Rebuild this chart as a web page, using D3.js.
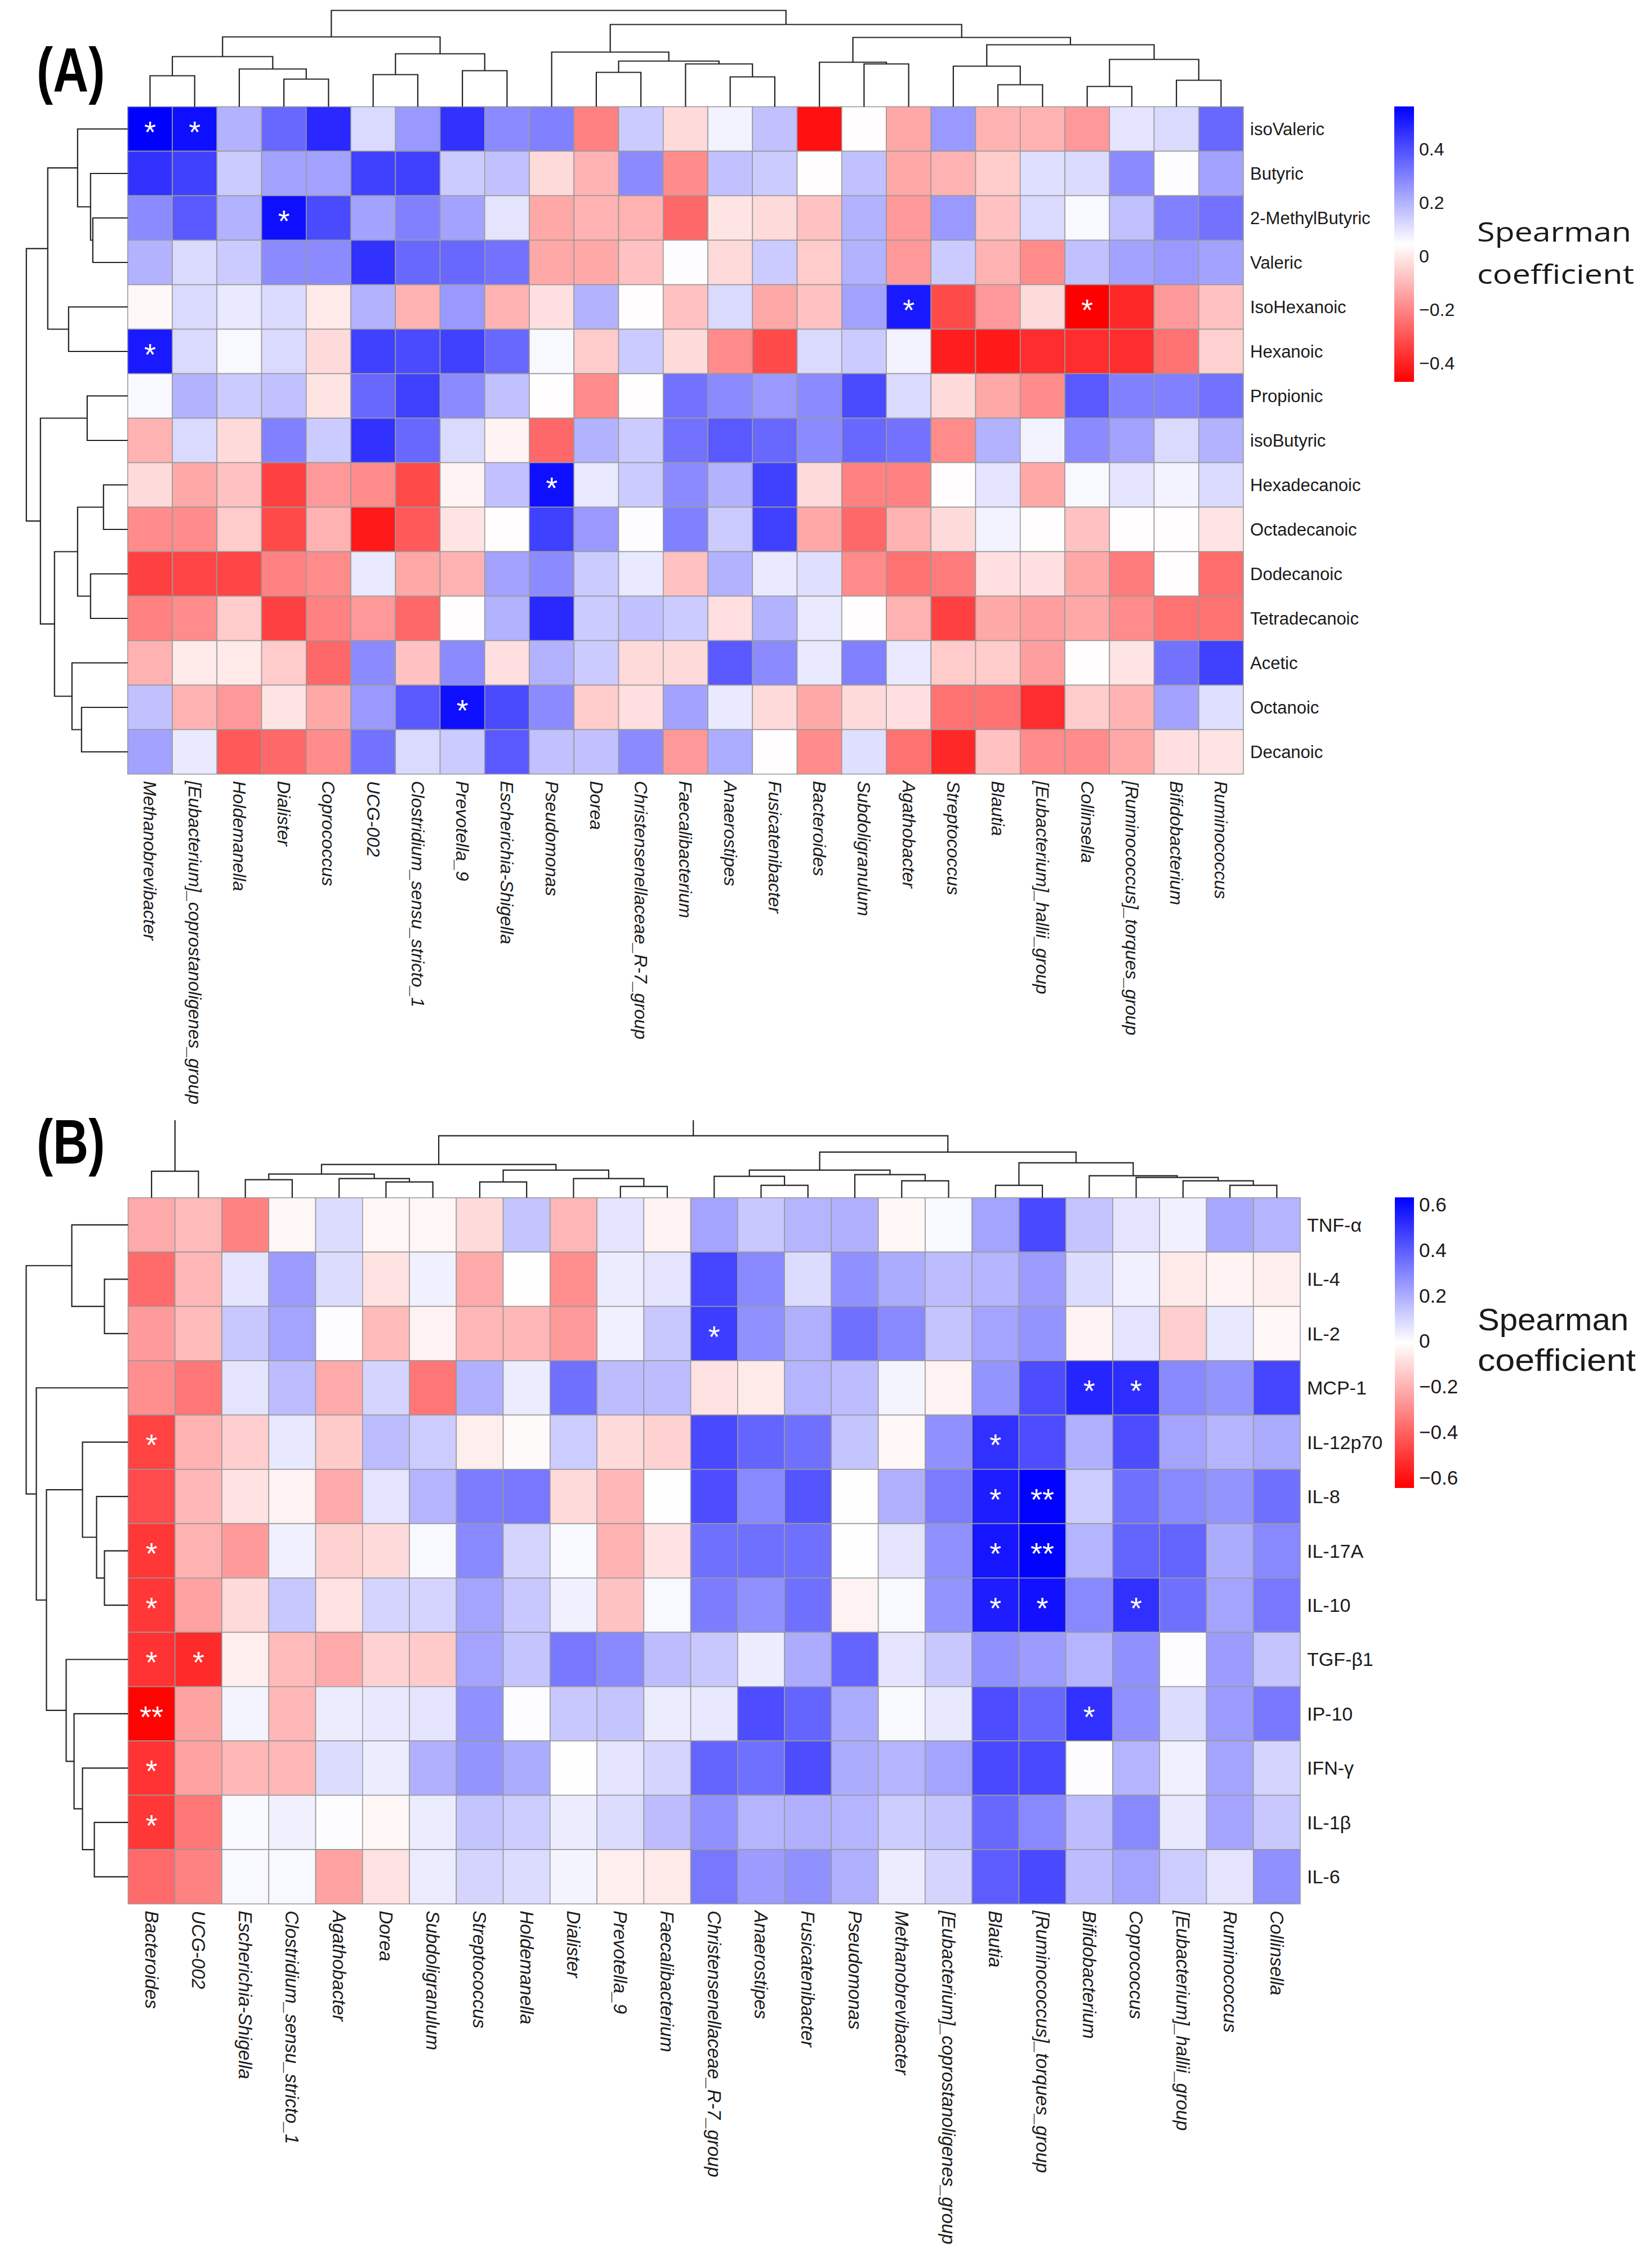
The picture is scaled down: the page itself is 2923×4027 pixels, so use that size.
<!DOCTYPE html>
<html>
<head>
<meta charset="utf-8">
<script src="https://cdn.jsdelivr.net/npm/d3@7"></script>
<style>
  body { margin: 0; background: #fff; }
  svg text { font-family: "Liberation Sans", Arial, sans-serif; fill: #1a1a1a; }
</style>
</head>
<body>
<svg id="chart" width="2923" height="4027"></svg>
<script>
/*
 * Spearman heatmaps (A: SCFA/FA vs. genera, B: cytokines vs. genera)
 */

// ---------- Panel A data ----------
var taxaA = ["Methanobrevibacter", "[Eubacterium]_coprostanoligenes_group", "Holdemanella", "Dialister",
  "Coprococcus", "UCG-002", "Clostridium_sensu_stricto_1", "Prevotella_9", "Escherichia-Shigella",
  "Pseudomonas", "Dorea", "Christensenellaceae_R-7_group", "Faecalibacterium", "Anaerostipes",
  "Fusicatenibacter", "Bacteroides", "Subdoligranulum", "Agathobacter", "Streptococcus", "Blautia",
  "[Eubacterium]_hallii_group", "Collinsella", "[Ruminococcus]_torques_group", "Bifidobacterium", "Ruminococcus"];

var acidsA = ["isoValeric", "Butyric", "2-MethylButyric", "Valeric", "IsoHexanoic", "Hexanoic", "Propionic",
  "isoButyric", "Hexadecanoic", "Octadecanoic", "Dodecanoic", "Tetradecanoic", "Acetic", "Octanoic", "Decanoic"];

// one row per acid, one value per genus (order of taxaA)
var rhoA = [
  [0.56, 0.53, 0.20, 0.35, 0.48, 0.12, 0.25, 0.46, 0.28, 0.30, -0.21, 0.15, -0.03, 0.07, 0.17, -0.44, 0.04, -0.13, 0.25, -0.11, -0.11, -0.16, 0.10, 0.12, 0.35],
  [0.46, 0.43, 0.15, 0.23, 0.23, 0.43, 0.43, 0.15, 0.17, -0.03, -0.11, 0.28, -0.19, 0.17, 0.15, 0.04, 0.17, -0.13, -0.11, -0.06, 0.11, 0.12, 0.28, 0.05, 0.23],
  [0.28, 0.38, 0.20, 0.53, 0.41, 0.23, 0.30, 0.23, 0.10, -0.13, -0.11, -0.11, -0.26, -0.01, -0.03, -0.08, 0.20, -0.16, 0.25, -0.08, 0.12, 0.06, 0.17, 0.30, 0.33],
  [0.20, 0.12, 0.15, 0.28, 0.28, 0.46, 0.35, 0.35, 0.33, -0.13, -0.13, -0.08, 0.05, -0.03, 0.15, -0.06, 0.20, -0.16, 0.15, -0.11, -0.19, 0.17, 0.23, 0.25, 0.23],
  [0.03, 0.12, 0.09, 0.12, 0.00, 0.20, -0.11, 0.25, -0.11, -0.02, 0.20, 0.04, -0.08, 0.12, -0.13, -0.08, 0.23, 0.51, -0.32, -0.16, -0.03, -0.47, -0.39, -0.16, -0.08],
  [0.51, 0.12, 0.06, 0.12, -0.03, 0.43, 0.41, 0.43, 0.35, 0.06, -0.06, 0.15, -0.03, -0.19, -0.32, 0.12, 0.15, 0.07, -0.41, -0.42, -0.38, -0.38, -0.38, -0.24, -0.05],
  [0.06, 0.20, 0.15, 0.17, -0.01, 0.35, 0.43, 0.28, 0.17, 0.04, -0.19, 0.04, 0.33, 0.28, 0.25, 0.28, 0.41, 0.12, -0.03, -0.13, -0.19, 0.38, 0.30, 0.30, 0.33],
  [-0.11, 0.12, -0.03, 0.30, 0.15, 0.46, 0.35, 0.12, 0.02, -0.26, 0.20, 0.15, 0.33, 0.38, 0.35, 0.28, 0.35, 0.33, -0.19, 0.20, 0.07, 0.28, 0.23, 0.12, 0.20],
  [-0.03, -0.13, -0.08, -0.34, -0.16, -0.19, -0.32, 0.02, 0.17, 0.53, 0.09, 0.15, 0.28, 0.20, 0.43, -0.03, -0.21, -0.21, 0.04, 0.10, -0.13, 0.06, 0.10, 0.07, 0.12],
  [-0.19, -0.19, -0.06, -0.32, -0.11, -0.42, -0.29, -0.01, 0.04, 0.43, 0.25, 0.05, 0.30, 0.15, 0.43, -0.13, -0.26, -0.11, -0.03, 0.07, 0.04, -0.08, 0.04, 0.04, -0.01],
  [-0.34, -0.33, -0.33, -0.21, -0.19, 0.09, -0.13, -0.11, 0.23, 0.28, 0.15, 0.09, -0.08, 0.20, 0.09, 0.11, -0.19, -0.24, -0.22, -0.02, -0.02, -0.13, -0.22, 0.04, -0.25],
  [-0.21, -0.19, -0.06, -0.34, -0.21, -0.16, -0.26, 0.04, 0.20, 0.48, 0.15, 0.17, 0.15, -0.02, 0.20, 0.09, 0.04, -0.11, -0.34, -0.13, -0.15, -0.13, -0.19, -0.24, -0.24],
  [-0.11, 0.00, 0.00, -0.06, -0.26, 0.28, -0.08, 0.28, -0.02, 0.20, 0.15, -0.03, -0.03, 0.38, 0.28, 0.09, 0.30, 0.09, -0.06, -0.06, -0.15, 0.04, -0.01, 0.33, 0.43],
  [0.17, -0.11, -0.16, -0.01, -0.13, 0.25, 0.38, 0.53, 0.41, 0.28, -0.06, -0.02, 0.23, 0.09, -0.03, -0.13, -0.03, -0.02, -0.24, -0.24, -0.38, -0.06, -0.11, 0.23, 0.11],
  [0.23, 0.09, -0.29, -0.26, -0.19, 0.33, 0.12, 0.15, 0.38, 0.17, 0.17, 0.28, -0.16, 0.21, 0.04, -0.19, 0.11, -0.24, -0.39, -0.08, -0.19, -0.19, -0.13, -0.02, -0.01]
];

// [row, column, mark]
var starsA = [[0, 0, "*"], [0, 1, "*"], [2, 3, "*"], [4, 17, "*"], [4, 21, "*"], [5, 0, "*"], [8, 9, "*"], [13, 7, "*"]];

// hclust style merges: negative = leaf (-(i+1)), positive = earlier merge (1-based); third = height
var colMergeA = [[-1, -2, 0.55], [-4, -5, 0.49], [-3, 2, 0.67], [1, 3, 0.89], [-6, -7, 0.57], [-8, -9, 0.64],
  [5, 6, 0.94], [4, 7, 1.24], [-11, -12, 0.61], [-14, -15, 0.53], [-13, 10, 0.76], [9, 11, 0.81], [-10, 12, 0.97],
  [-17, -18, 0.76], [-16, 14, 0.79], [-20, -21, 0.39], [-19, 16, 0.72], [-22, -23, 0.36], [-24, -25, 0.47],
  [18, 19, 0.84], [17, 20, 1.10], [15, 21, 1.23], [13, 22, 1.46], [8, 23, 1.71]];
var rowMergeA = [[-3, -4, 0.62], [-2, 1, 0.66], [-1, 2, 0.89], [-5, -6, 1.05], [3, 4, 1.42], [-7, -8, 0.72],
  [-9, -10, 0.43], [-11, -12, 0.66], [7, 8, 0.89], [-14, -15, 0.82], [-13, 10, 0.99], [9, 11, 1.30],
  [6, 12, 1.55], [5, 13, 1.80]];

var rangeA = [-0.47, 0.56];
var ticksA = [0.4, 0.2, 0, -0.2, -0.4];

// ---------- Panel B data ----------
var taxaB = ["Bacteroides", "UCG-002", "Escherichia-Shigella", "Clostridium_sensu_stricto_1", "Agathobacter",
  "Dorea", "Subdoligranulum", "Streptococcus", "Holdemanella", "Dialister", "Prevotella_9", "Faecalibacterium",
  "Christensenellaceae_R-7_group", "Anaerostipes", "Fusicatenibacter", "Pseudomonas", "Methanobrevibacter",
  "[Eubacterium]_coprostanoligenes_group", "Blautia", "[Ruminococcus]_torques_group", "Bifidobacterium",
  "Coprococcus", "[Eubacterium]_hallii_group", "Ruminococcus", "Collinsella"];

var cytokinesB = ["TNF-α", "IL-4", "IL-2", "MCP-1", "IL-12p70", "IL-8", "IL-17A", "IL-10", "TGF-β1", "IP-10",
  "IFN-γ", "IL-1β", "IL-6"];

var rhoB = [
  [-0.22, -0.18, -0.32, -0.03, 0.08, -0.03, -0.03, -0.10, 0.14, -0.19, 0.06, -0.04, 0.22, 0.13, 0.18, 0.19, -0.03, 0.01, 0.22, 0.45, 0.14, 0.06, 0.03, 0.21, 0.18],
  [-0.38, -0.19, 0.06, 0.24, 0.08, -0.08, 0.03, -0.22, -0.01, -0.29, 0.04, 0.06, 0.46, 0.29, 0.08, 0.27, 0.20, 0.16, 0.18, 0.24, 0.08, 0.03, -0.06, -0.04, -0.05],
  [-0.26, -0.18, 0.13, 0.22, 0.00, -0.18, -0.04, -0.19, -0.19, -0.26, 0.03, 0.13, 0.48, 0.27, 0.19, 0.35, 0.29, 0.14, 0.22, 0.26, -0.04, 0.06, -0.13, 0.05, -0.03],
  [-0.29, -0.35, 0.06, 0.16, -0.22, 0.10, -0.35, 0.19, 0.04, 0.35, 0.16, 0.16, -0.08, -0.06, 0.18, 0.16, 0.02, -0.04, 0.26, 0.44, 0.54, 0.52, 0.29, 0.26, 0.46],
  [-0.48, -0.20, -0.13, 0.05, -0.14, 0.16, 0.12, -0.05, -0.02, 0.12, -0.10, -0.12, 0.45, 0.38, 0.35, 0.14, -0.03, 0.27, 0.51, 0.44, 0.19, 0.44, 0.22, 0.18, 0.20],
  [-0.46, -0.19, -0.08, -0.04, -0.22, 0.06, 0.18, 0.32, 0.33, -0.10, -0.19, -0.01, 0.44, 0.29, 0.42, -0.01, 0.19, 0.32, 0.56, 0.63, 0.12, 0.35, 0.29, 0.26, 0.35],
  [-0.51, -0.20, -0.26, 0.03, -0.12, -0.10, 0.01, 0.29, 0.10, 0.01, -0.20, -0.08, 0.35, 0.35, 0.35, -0.01, 0.06, 0.27, 0.58, 0.63, 0.18, 0.38, 0.38, 0.20, 0.29],
  [-0.51, -0.24, -0.10, 0.13, -0.08, 0.10, 0.10, 0.22, 0.13, 0.03, -0.16, 0.01, 0.32, 0.27, 0.35, -0.04, 0.01, 0.26, 0.56, 0.59, 0.29, 0.51, 0.35, 0.22, 0.33],
  [-0.52, -0.54, -0.05, -0.18, -0.22, -0.12, -0.14, 0.22, 0.14, 0.33, 0.29, 0.16, 0.13, 0.04, 0.20, 0.38, 0.06, 0.13, 0.27, 0.24, 0.18, 0.27, 0.00, 0.24, 0.14],
  [-0.64, -0.24, 0.02, -0.19, 0.04, 0.05, 0.06, 0.27, 0.00, 0.13, 0.14, 0.04, 0.05, 0.44, 0.38, 0.20, 0.01, 0.05, 0.44, 0.37, 0.51, 0.27, 0.08, 0.24, 0.33],
  [-0.52, -0.24, -0.19, -0.19, 0.08, 0.04, 0.19, 0.26, 0.20, -0.01, 0.06, 0.10, 0.38, 0.35, 0.44, 0.20, 0.18, 0.22, 0.45, 0.45, 0.00, 0.18, 0.03, 0.22, 0.10],
  [-0.51, -0.35, 0.01, 0.03, 0.00, -0.03, 0.04, 0.14, 0.12, 0.04, 0.08, 0.16, 0.27, 0.18, 0.19, 0.18, 0.12, 0.14, 0.37, 0.29, 0.16, 0.29, 0.05, 0.22, 0.13],
  [-0.38, -0.32, 0.01, 0.01, -0.24, -0.08, 0.04, 0.10, 0.08, 0.02, -0.05, -0.06, 0.33, 0.24, 0.27, 0.19, 0.04, 0.10, 0.40, 0.45, 0.16, 0.22, 0.12, 0.06, 0.27]
];

var starsB = [[2, 12, "*"], [3, 20, "*"], [3, 21, "*"], [4, 0, "*"], [4, 18, "*"], [5, 18, "*"], [5, 19, "**"],
  [6, 0, "*"], [6, 18, "*"], [6, 19, "**"], [7, 0, "*"], [7, 18, "*"], [7, 19, "*"], [7, 21, "*"], [8, 0, "*"],
  [8, 1, "*"], [9, 0, "**"], [9, 20, "*"], [10, 0, "*"], [11, 0, "*"]];

var colMergeB = [[-1, -2, 0.47], [-3, -4, 0.32], [-6, -7, 0.28], [-5, 3, 0.34], [2, 4, 0.42], [-8, -9, 0.28],
  [-11, -12, 0.20], [-10, 7, 0.34], [6, 8, 0.49], [5, 9, 0.59], [-14, -15, 0.22], [-13, 11, 0.38],
  [-17, -18, 0.30], [-16, 13, 0.41], [12, 14, 0.49], [-19, -20, 0.22], [-24, -25, 0.22], [-23, 17, 0.30],
  [-22, 18, 0.36], [-21, 19, 0.39], [16, 20, 0.62], [15, 21, 0.81], [10, 22, 1.10], [1, 23, 1.60]];
var rowMergeB = [[-2, -3, 0.42], [-1, 1, 1.00], [-7, -8, 0.42], [-6, 3, 0.56], [-5, 4, 0.81], [-12, -13, 0.60],
  [-11, 6, 0.81], [-10, 7, 0.96], [-9, 8, 1.10], [5, 9, 1.45], [-4, 10, 1.63], [2, 11, 1.81]];

var rangeB = [-0.647, 0.632];
var ticksB = [0.6, 0.4, 0.2, 0, -0.2, -0.4, -0.6];

// ---------- Drawing ----------
var svg = d3.select("#chart");
var defs = svg.append("defs");

// px per unit of dendrogram height
var distScale = d3.scaleLinear().domain([0, 1]).range([0, 100]);

function fmtTick(v) {
  return String(v).replace("-", "\u2212");
}

/**
 * Draws an hclust-style dendrogram.
 * leafPos(i) -> position along the leaves, heightPos(h) -> position for height h
 */
function dendrogram(g, merges, leafPos, heightPos, vertical) {
  var nodes = [];
  var segs = [];
  function node(id) {
    if (id < 0) return { pos: leafPos(-id - 1), h: 0 };
    return nodes[id - 1];
  }
  merges.forEach(function(m) {
    var a = node(m[0]), b = node(m[1]);
    nodes.push({ pos: (a.pos + b.pos) / 2, h: m[2] });
    segs.push({ a: a, b: b, h: m[2] });
  });

  g.selectAll("path.branch").data(segs).enter().append("path")
    .attr("class", "branch")
    .attr("fill", "none")
    .attr("stroke", "#222")
    .attr("stroke-width", 2.2)
    .attr("d", function(d) {
      var hm = heightPos(d.h);
      if (vertical) {
        return "M" + d.a.pos + "," + heightPos(d.a.h) + "V" + hm + "H" + d.b.pos + "V" + heightPos(d.b.h);
      }
      return "M" + heightPos(d.a.h) + "," + d.a.pos + "H" + hm + "V" + d.b.pos + "H" + heightPos(d.b.h);
    });
}

function drawPanel(p) {
  var g = svg.append("g");

  var x = d3.scaleBand().domain(d3.range(p.cols.length)).range([p.left, p.right]);
  var y = d3.scaleBand().domain(d3.range(p.rows.length)).range([p.top, p.bottom]);

  // pheatmap spreads red-white-blue evenly over [min, max]
  var mid = (p.range[0] + p.range[1]) / 2;
  var color = d3.scaleLinear()
    .domain([p.range[0], mid, p.range[1]])
    .range(["#ff0000", "#ffffff", "#0000ff"])
    .clamp(true);

  // cells
  var cells = [];
  p.values.forEach(function(row, i) {
    row.forEach(function(v, j) { cells.push({ i: i, j: j, v: v }); });
  });
  g.selectAll("rect.cell").data(cells).enter().append("rect")
    .attr("class", "cell")
    .attr("x", function(d) { return x(d.j); })
    .attr("y", function(d) { return y(d.i); })
    .attr("width", x.bandwidth())
    .attr("height", y.bandwidth())
    .attr("fill", function(d) { return color(d.v); })
    .attr("stroke", "#9a9a9a")
    .attr("stroke-width", 1.6);

  // significance marks
  var starSize = 54;
  g.selectAll("text.star").data(p.stars).enter().append("text")
    .attr("class", "star")
    .attr("x", function(d) { return x(d[1]) + x.bandwidth() / 2; })
    .attr("y", function(d) { return y(d[0]) + y.bandwidth() / 2 + starSize * 0.44; })
    .attr("text-anchor", "middle")
    .attr("font-size", starSize)
    .style("fill", "#fff")
    .text(function(d) { return d[2]; });

  // row labels
  g.selectAll("text.rowlab").data(p.rows).enter().append("text")
    .attr("class", "rowlab")
    .attr("x", p.right + 12)
    .attr("y", function(d, i) { return y(i) + y.bandwidth() / 2; })
    .attr("dominant-baseline", "central")
    .attr("font-size", p.rowFont)
    .text(function(d) { return d; });

  // column labels, rotated
  g.selectAll("text.collab").data(p.cols).enter().append("text")
    .attr("class", "collab")
    .attr("transform", function(d, j) {
      return "translate(" + (x(j) + x.bandwidth() / 2) + "," + (p.bottom + 12) + ") rotate(90)";
    })
    .attr("dominant-baseline", "central")
    .attr("font-style", "italic")
    .attr("font-size", p.colFont)
    .text(function(d) { return d; });

  // dendrograms
  var gc = g.append("g");
  if (p.clipTop != null) {
    var id = "clip" + p.name;
    defs.append("clipPath").attr("id", id).append("rect")
      .attr("x", 0).attr("y", p.clipTop).attr("width", 2923).attr("height", p.top - p.clipTop + 2);
    gc.attr("clip-path", "url(#" + id + ")");
  }
  dendrogram(gc, p.colMerge,
    function(k) { return x(k) + x.bandwidth() / 2; },
    function(h) { return p.top - distScale(h); }, true);
  dendrogram(g.append("g"), p.rowMerge,
    function(k) { return y(k) + y.bandwidth() / 2; },
    function(h) { return p.left - distScale(h); }, false);

  // colour key
  var gid = "grad" + p.name;
  var grad = defs.append("linearGradient").attr("id", gid)
    .attr("x1", 0).attr("y1", 1).attr("x2", 0).attr("y2", 0);
  [p.range[0], mid, p.range[1]].forEach(function(v, k) {
    grad.append("stop").attr("offset", k / 2).attr("stop-color", color(v));
  });
  g.append("rect")
    .attr("x", p.legX).attr("y", p.legTop)
    .attr("width", p.legW).attr("height", p.legBottom - p.legTop)
    .attr("fill", "url(#" + gid + ")");

  var ly = d3.scaleLinear().domain(p.range).range([p.legBottom, p.legTop]);
  g.selectAll("text.tick").data(p.ticks).enter().append("text")
    .attr("class", "tick")
    .attr("x", p.legX + p.legW + 9)
    .attr("y", function(d) { return ly(d); })
    .attr("dominant-baseline", "central")
    .attr("font-size", p.tickFont)
    .text(fmtTick);

  g.selectAll("text.ltitle").data(["Spearman", "coefficient"]).enter().append("text")
    .attr("class", "ltitle")
    .attr("x", p.titleX)
    .attr("y", function(d, i) { return p.titleY[i]; })
    .attr("font-size", p.titleFont)
    .attr("textLength", function(d, i) { return p.titleLen[i]; })
    .attr("lengthAdjust", "spacingAndGlyphs")
    .style("font-family", p.titleFamily)
    .text(function(d) { return d; });

  // panel tag
  g.append("text")
    .attr("transform", "translate(" + p.tagX + "," + p.tagY + ") scale(0.78,1)")
    .attr("font-size", 112)
    .attr("font-weight", "bold")
    .style("fill", "#000")
    .text(p.tag);
}

drawPanel({
  name: "A", tag: "(A)", tagX: 65, tagY: 163,
  cols: taxaA, rows: acidsA, values: rhoA, stars: starsA,
  colMerge: colMergeA, rowMerge: rowMergeA, clipTop: null,
  left: 226.8, right: 2208, top: 189.5, bottom: 1374.5,
  rowFont: 31, colFont: 32,
  range: rangeA, ticks: ticksA,
  legX: 2476, legW: 35, legTop: 189, legBottom: 678, tickFont: 32,
  titleX: 2623, titleY: [429, 504], titleFont: 48, titleLen: [274, 279],
  titleFamily: "'Open Sans', 'Noto Sans', sans-serif"
});

drawPanel({
  name: "B", tag: "(B)", tagX: 65, tagY: 2066,
  cols: taxaB, rows: cytokinesB, values: rhoB, stars: starsB,
  colMerge: colMergeB, rowMerge: rowMergeB, clipTop: 1989,
  left: 227.5, right: 2309, top: 2126.7, bottom: 3380.5,
  rowFont: 34, colFont: 33,
  range: rangeB, ticks: ticksB,
  legX: 2477, legW: 34, legTop: 2126, legBottom: 2642, tickFont: 35,
  titleX: 2624, titleY: [2362, 2434], titleFont: 56, titleLen: [268, 281],
  titleFamily: "'Liberation Sans', Arial, sans-serif"
});
</script>
</body>
</html>
